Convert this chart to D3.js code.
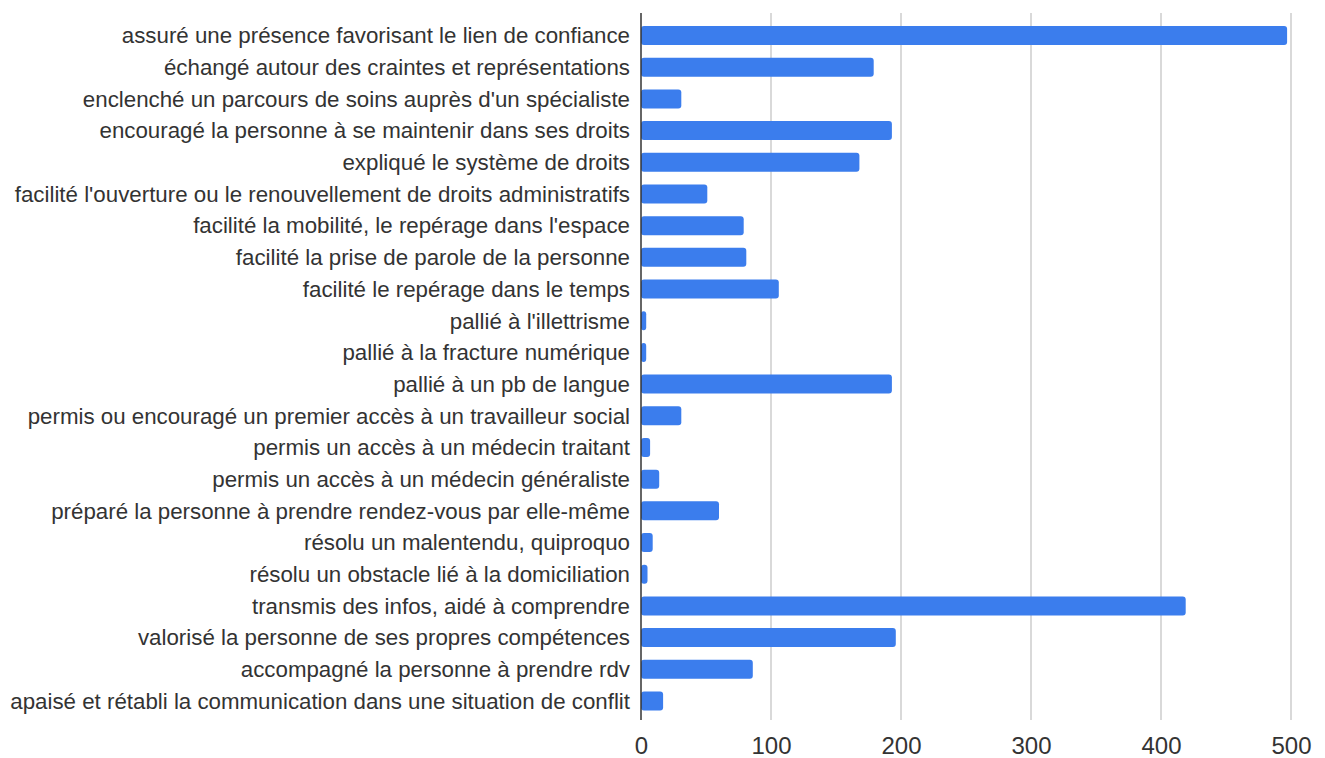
<!DOCTYPE html>
<html lang="fr">
<head>
  <meta charset="UTF-8">
  <title>Actions réalisées</title>
  <script src="https://d3js.org/d3.v7.min.js"></script>
  <style>
    body {
      margin: 0;
      background: #fff;
      font-family: Arial, "Liberation Sans", sans-serif;
    }
    .cat-label {
      fill: #333;
      font-size: 22.3px;
    }
    .x-axis text {
      fill: #333;
      font-size: 24px;
    }
  </style>
</head>
<body>
  <div id="chart"></div>

  <script>
    // Catégories (de haut en bas)
    const categories = [
      "assuré une présence favorisant le lien de confiance",
      "échangé autour des craintes et représentations",
      "enclenché un parcours de soins auprès d'un spécialiste",
      "encouragé la personne à se maintenir dans ses droits",
      "expliqué le système de droits",
      "facilité l'ouverture ou le renouvellement de droits administratifs",
      "facilité la mobilité, le repérage dans l'espace",
      "facilité la prise de parole de la personne",
      "facilité le repérage dans le temps",
      "pallié à l'illettrisme",
      "pallié à la fracture numérique",
      "pallié à un pb de langue",
      "permis ou encouragé un premier accès à un travailleur social",
      "permis un accès à un médecin traitant",
      "permis un accès à un médecin généraliste",
      "préparé la personne à prendre rendez-vous par elle-même",
      "résolu un malentendu, quiproquo",
      "résolu un obstacle lié à la domiciliation",
      "transmis des infos, aidé à comprendre",
      "valorisé la personne de ses propres compétences",
      "accompagné la personne à prendre rdv",
      "apaisé et rétabli la communication dans une situation de conflit"
    ];

    // Valeurs
    const values = [497, 179, 31, 193, 168, 51, 79, 81, 106, 4, 4, 193, 31, 7, 14, 60, 9, 5, 419, 196, 86, 17];

    // Graduations de l'axe horizontal
    const xTicks = [0, 100, 200, 300, 400, 500];

    const data = categories.map((c, i) => ({ cat: c, value: values[i] }));

    const width = 1325, height = 758;
    const margin = { top: 26, right: 34, left: 641 };
    const step = 31.69;

    const svg = d3.select("#chart").append("svg")
      .attr("width", width)
      .attr("height", height);

    const x = d3.scaleLinear()
      .domain([0, 500])
      .range([margin.left, width - margin.right]);

    const y = d3.scaleBand()
      .domain(categories)
      .range([margin.top, margin.top + step * (categories.length - 0.4)])
      .paddingInner(0.4)
      .paddingOuter(0);

    const plotTop = 13, plotBottom = 720;

    // Lignes de grille verticales
    svg.append("g")
      .selectAll("line")
      .data(xTicks.filter(t => t > 0))
      .enter().append("line")
      .attr("x1", d => x(d))
      .attr("x2", d => x(d))
      .attr("y1", plotTop)
      .attr("y2", plotBottom)
      .attr("stroke", "#cccccc")
      .attr("stroke-width", 1.5);

    // Barres
    svg.append("g")
      .selectAll("rect")
      .data(data)
      .enter().append("rect")
      .attr("x", x(0))
      .attr("y", d => y(d.cat))
      .attr("width", d => x(d.value) - x(0))
      .attr("height", y.bandwidth())
      .attr("rx", 3)
      .attr("fill", "#3b7ded");

    // Axe vertical (ligne de base)
    svg.append("line")
      .attr("x1", x(0))
      .attr("x2", x(0))
      .attr("y1", plotTop)
      .attr("y2", plotBottom)
      .attr("stroke", "#333")
      .attr("stroke-width", 1.5);

    // Libellés des catégories
    svg.append("g")
      .selectAll("text")
      .data(categories)
      .enter().append("text")
      .attr("class", "cat-label")
      .attr("x", x(0) - 11)
      .attr("y", d => y(d) + y.bandwidth() / 2)
      .attr("dy", "0.35em")
      .attr("text-anchor", "end")
      .text(d => d);

    // Axe horizontal
    const xAxis = svg.append("g")
      .attr("class", "x-axis")
      .attr("transform", "translate(0," + plotBottom + ")")
      .call(d3.axisBottom(x).tickValues(xTicks).tickSize(0).tickPadding(17));
    xAxis.select(".domain").remove();
    xAxis.selectAll("text").attr("font-family", "Arial, 'Liberation Sans', sans-serif");
  </script>
</body>
</html>
